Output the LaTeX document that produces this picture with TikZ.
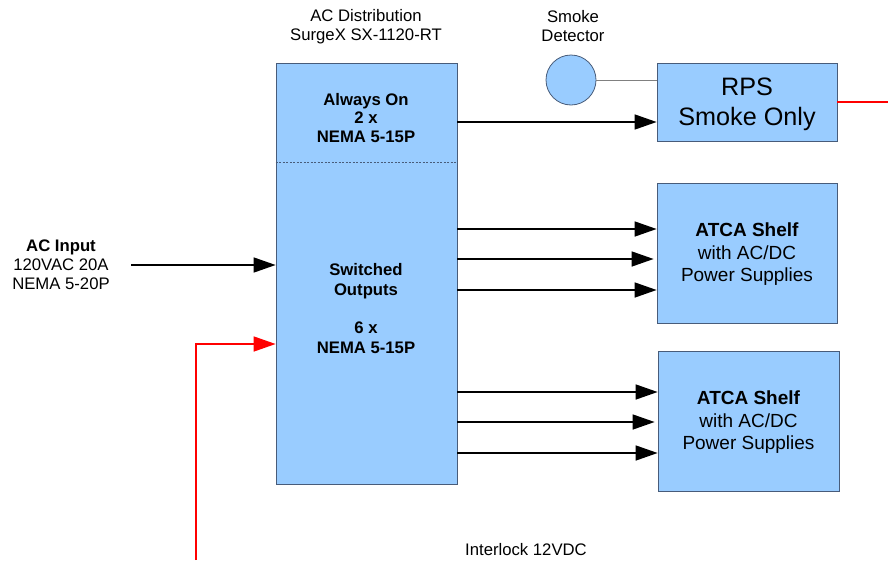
\documentclass[tikz,border=0pt]{standalone}
\usepackage{fontspec}
\setmainfont{Liberation Sans}
\usetikzlibrary{arrows.meta}
\definecolor{boxfill}{RGB}{153,204,255}
\definecolor{boxline}{RGB}{72,92,122}
\definecolor{wire}{RGB}{128,128,128}
\begin{document}
\begin{tikzpicture}[x=1pt,y=-1pt,
  unit/.style={draw=boxline,fill=boxfill,line width=0.8pt,inner sep=0pt,minimum width=#1},
  unit/.default=181pt,
  lbl/.style={align=center,inner sep=0pt,font=\fontsize{16.7}{19}\selectfont},
  shelftxt/.style={align=center,inner sep=0pt,font=\fontsize{19}{22.5}\selectfont},
  feed/.style={line width=1.6pt,-{Triangle[length=22pt,width=15pt]}},
  interlock/.style={draw=red,line width=1.6pt,-{Triangle[length=22pt,width=15pt]},red}]
\useasboundingbox (0,0) rectangle (888,560);

% AC distribution unit
\node[unit,minimum height=421pt] (acd) at (366.5,273.5) {};
\draw[boxline,dashed,line width=0.6pt,dash pattern=on 2pt off 1.5pt]
  (acd.west |- 0,162) -- (acd.east |- 0,162);
\node[lbl] (acdtitle) at (366,26.5) {AC Distribution\\SurgeX SX-1120-RT};
\node[lbl,font=\fontsize{16.7}{18.5}\selectfont\bfseries] (aon) at (366,118) {Always On\\2 x\\NEMA 5-15P};
\node[lbl,font=\fontsize{16.7}{19.3}\selectfont\bfseries] (sw) at (366,308.5) {Switched\\Outputs\\\mbox{}\\6 x\\NEMA 5-15P};

% Smoke detector and RPS
\node[circle,draw=boxline,fill=boxfill,line width=0.8pt,minimum size=50pt,inner sep=0pt] (sd) at (571,80) {};
\node[lbl] (sdtitle) at (573,26.5) {Smoke\\Detector};
\node[unit=180pt,minimum height=78pt] (rps) at (747,102) {};
\node[align=center,inner sep=0pt,font=\fontsize{25.2}{29.5}\selectfont] (rpst) at (747,104.5) {RPS\\Smoke Only};
\draw[wire,line width=0.8pt] (sd.east) -- (rps.west |- sd.east);

% ATCA shelves
\node[unit=180pt,minimum height=140pt] (atca1) at (747,253) {};
\node[shelftxt] (atca1t) at (747,254.5) {\textbf{ATCA Shelf}\\with AC/DC\\Power Supplies};
\node[unit=181pt,minimum height=140pt] (atca2) at (748.5,421) {};
\node[shelftxt] (atca2t) at (748.5,422.5) {\textbf{ATCA Shelf}\\with AC/DC\\Power Supplies};

% Outlet feeds
\draw[feed] (acd.east |- 0,122) -- (rps.west |- 0,122);
\draw[feed] (acd.east |- 0,229) -- (atca1.west |- 0,229);
\draw[feed] (acd.east |- 0,259) -- ([xshift=-3pt]atca1.west |- 0,259);
\draw[feed] (acd.east |- 0,290) -- (atca1.west |- 0,290);
\draw[feed] (acd.east |- 0,392) -- (atca2.west |- 0,392);
\draw[feed] (acd.east |- 0,422) -- ([xshift=-3pt]atca2.west |- 0,422);
\draw[feed] (acd.east |- 0,453) -- (atca2.west |- 0,453);

% AC input
\node[lbl] (acin) at (61,264.5) {\textbf{AC Input}\\120VAC 20A\\NEMA 5-20P};
\coordinate (acinend) at (131,265);
\draw[feed] (acinend) -- (acd.west |- acinend);

% Interlock wiring
\coordinate (ilbot) at (196,560);
\coordinate (ilright) at (888,102);
\draw[interlock] (ilbot) |- (acd.west |- 0,344);
\draw[red,line width=1.6pt] (rps.east |- ilright) -- (ilright);
\node[lbl] (iltxt) at (526,550) {Interlock 12VDC};
\end{tikzpicture}
\end{document}
